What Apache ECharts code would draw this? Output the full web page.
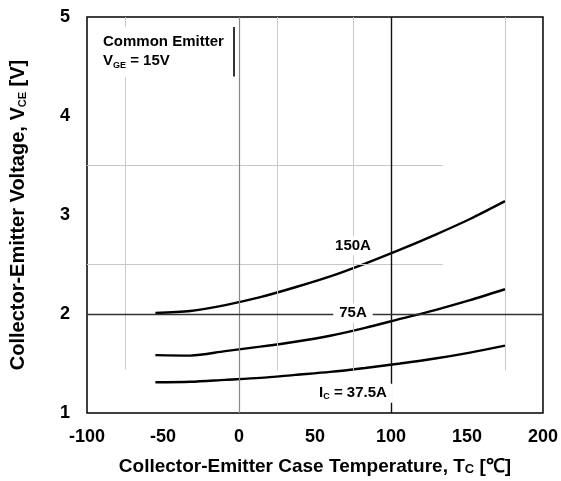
<!DOCTYPE html>
<html><head><meta charset="utf-8">
<script src="https://cdn.jsdelivr.net/npm/echarts@6/dist/echarts.min.js"></script>
<style>html,body{margin:0;padding:0;background:#fff}#c{width:561px;height:481px}</style>
</head><body><div id="c"></div>
<script>
// Data
const temps = [-55, -32, -9, 14, 37, 60, 83, 106, 129, 152, 175];
const vce150 = [2.01, 2.03, 2.09, 2.17, 2.27, 2.38, 2.51, 2.65, 2.80, 2.96, 3.14];
const vce75 = [1.585, 1.58, 1.625, 1.67, 1.72, 1.78, 1.86, 1.95, 2.04, 2.14, 2.25];
const vce37 = [1.31, 1.315, 1.335, 1.355, 1.385, 1.415, 1.455, 1.50, 1.55, 1.61, 1.68];
const xTicks = [-100, -50, 0, 50, 100, 150, 200];
const yTicks = [1, 2, 3, 4, 5];
const curveLabels = ['150A', '75A', 'I{sub|C} = 37.5A'];
const labelPos = [[75, 2.69], [75, 2.01], [75, 1.20]];

const pairs = (ys) => temps.map((t, i) => [t, ys[i]]);
const FONT = '"Liberation Sans", Arial, sans-serif';
const mkSub = (size, pad) => ({ fontSize: size, fontWeight: 'bold', fontFamily: FONT, verticalAlign: 'bottom', padding: [pad, 0, 0, 0], color: '#000' });

const light = { color: '#c8c8c8', width: 1, type: 'solid' };
const gridLines = [
  [[-75, 5], [-75, 4.9], light], [[-75, 4.39], [-75, 1.44], light],
  [[25, 5], [25, 1.43], light], [[75, 5], [75, 1.43], light], [[175, 5], [175, 1.43], light],
  [[-100, 3.5], [134, 3.5], light], [[-100, 2.5], [134, 2.5], light],
  [[0, 5], [0, 1], { color: '#888', width: 1.2, type: 'solid' }],
  [[100, 5], [100, 1], { color: '#111', width: 1.4, type: 'solid' }],
  [[-100, 2], [200, 2], { color: '#333', width: 1.4, type: 'solid' }],
  [[-3.3, 4.9], [-3.3, 4.4], { color: '#000', width: 1.6, type: 'solid' }]
];

const curve = (name, ys) => ({
  name, type: 'line', data: pairs(ys), smooth: 0.3, symbol: 'none', z: 4,
  lineStyle: { color: '#000', width: 2.4 }
});

const option = {
  animation: false,
  backgroundColor: '#fff',
  grid: { left: 87, right: 18, top: 17, bottom: 64, show: true, borderColor: '#000', borderWidth: 1.5, backgroundColor: 'transparent' },
  xAxis: {
    type: 'value', min: -100, max: 200, interval: 50,
    axisLine: { show: false }, axisTick: { show: false }, splitLine: { show: false },
    axisLabel: { color: '#000', fontSize: 18, fontWeight: 'bold', fontFamily: FONT, margin: 15 },
    name: 'Collector-Emitter Case Temperature, T{sub|C} [℃]', nameLocation: 'middle', nameGap: 44,
    nameTextStyle: { color: '#000', fontSize: 19, fontWeight: 'bold', fontFamily: FONT, rich: { sub: mkSub(13, 6) } }
  },
  yAxis: {
    type: 'value', min: 1, max: 5, interval: 1,
    axisLine: { show: false }, axisTick: { show: false }, splitLine: { show: false },
    axisLabel: { color: '#000', fontSize: 18, fontWeight: 'bold', fontFamily: FONT, margin: 17 },
    name: 'Collector-Emitter Voltage, V{sub|CE} [V]', nameLocation: 'middle', nameGap: 59, nameRotate: 90,
    nameTextStyle: { color: '#000', fontSize: 20, fontWeight: 'bold', fontFamily: FONT, rich: { sub: mkSub(11, 6) } }
  },
  graphic: [{
    type: 'text', left: 97, top: 31, z: 100,
    style: {
      text: 'Common Emitter\nV{sub|GE} = 15V', fill: '#000', font: 'bold 15px ' + FONT,
      lineHeight: 19, backgroundColor: '#fff', padding: [1, 6, 1, 6],
      rich: { sub: { fontSize: 9, fontWeight: 'bold', fontFamily: FONT, verticalAlign: 'bottom', padding: [5, 0, 0, 0], fill: '#000' } }
    }
  }],
  series: [
    {
      name: 'grid', type: 'line', data: [], z: 1, silent: true,
      markLine: {
        silent: true, symbol: 'none', label: { show: false }, animation: false,
        lineStyle: { type: 'solid' },
        data: gridLines.map(([a, b, s]) => [{ coord: a, lineStyle: s }, { coord: b }])
      }
    },
    curve('150A', vce150),
    curve('75A', vce75),
    curve('37.5A', vce37),
    {
      name: 'labels', type: 'line', data: [], z: 6, silent: true,
      markPoint: {
        silent: true, symbol: 'rect', symbolSize: 1, itemStyle: { color: 'rgba(0,0,0,0)' },
        label: {
          show: true, position: 'inside', color: '#000', fontSize: 15, fontWeight: 'bold', fontFamily: FONT,
          backgroundColor: '#fff', padding: [2, 6, 2, 6],
          formatter: (p) => curveLabels[p.dataIndex],
          rich: { sub: mkSub(9, 5) }
        },
        data: labelPos.map((c) => ({ coord: c }))
      }
    }
  ]
};
const chart = echarts.init(document.getElementById('c'), null, { renderer: 'canvas' });
chart.setOption(option);
</script></body></html>
